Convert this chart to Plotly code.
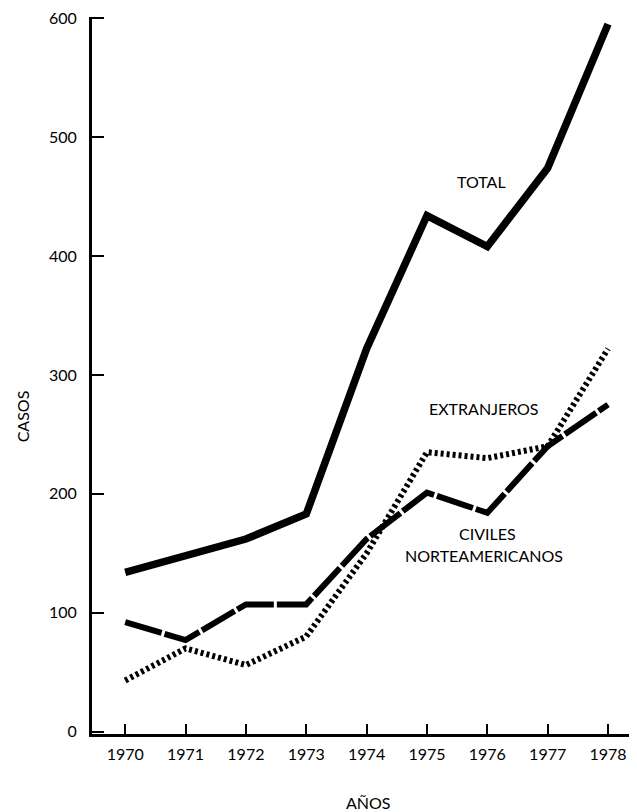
import plotly.graph_objects as go

years = [1970, 1971, 1972, 1973, 1974, 1975, 1976, 1977, 1978]
total = [134, 148, 162, 183, 322, 434, 408, 474, 595]
civiles = [92, 77, 107, 107, 162, 201, 184, 240, 275]
extranjeros = [43, 70, 56, 80, 150, 235, 230, 240, 322]
y_ticks = [0, 100, 200, 300, 400, 500, 600]

FONT = "Lato"

# page has 8px body margin; plot area spans x 92..637, y 14..734 in the screenshot
W, H = 629, 804
L, T = 84, 6
PW, PH = 545, 720

fig = go.Figure()
fig.add_trace(go.Scatter(x=years, y=extranjeros, mode="lines",
                         line=dict(color="black", width=6, dash="3px,3px")))
fig.add_trace(go.Scatter(x=years, y=civiles, mode="lines",
                         line=dict(color="black", width=6, dash="38px,3px")))
fig.add_trace(go.Scatter(x=years, y=total, mode="lines",
                         line=dict(color="black", width=7.5)))

tfont = dict(family=FONT, size=16, color="black")

fig.update_layout(
    width=W, height=H,
    margin=dict(l=L, r=0, t=T, b=H - T - PH, pad=0),
    paper_bgcolor="white", plot_bgcolor="white",
    showlegend=False,
    font=tfont,
    xaxis=dict(range=[1969.45, 1978.48], tickvals=years,
               ticktext=[str(y) for y in years],
               showline=True, linewidth=3, linecolor="black",
               ticks="inside", ticklen=10, tickwidth=2, tickcolor="black",
               showgrid=False, zeroline=False, ticklabelstandoff=4,
               tickfont=tfont),
    yaxis=dict(range=[-2, 601], tickvals=y_ticks,
               showline=True, linewidth=3, linecolor="black",
               ticks="inside", ticklen=12, tickwidth=2, tickcolor="black",
               showgrid=False, zeroline=False, ticklabelstandoff=9,
               ticklabeloverflow="allow", tickfont=tfont),
)

afont = dict(family=FONT, size=16, color="black")
fig.add_annotation(x=1975.9, y=463, xref="x", yref="y", text="TOTAL",
                   showarrow=False, font=afont)
fig.add_annotation(x=1975.95, y=272, xref="x", yref="y", text="EXTRANJEROS",
                   showarrow=False, font=afont)
fig.add_annotation(x=1976.0, y=167, xref="x", yref="y", text="CIVILES",
                   showarrow=False, font=afont)
fig.add_annotation(x=1975.95, y=148, xref="x", yref="y", text="NORTEAMERICANOS",
                   showarrow=False, font=afont)
fig.add_annotation(x=(22 - 92) / PW, y=(734 - 415) / PH, xref="paper", yref="paper",
                   xanchor="center", yanchor="middle",
                   text="CASOS", textangle=-90, showarrow=False, font=afont)
fig.add_annotation(x=(368 - 92) / PW, y=-(803 - 734) / PH, xref="paper", yref="paper",
                   xanchor="center", yanchor="middle",
                   text="AÑOS", showarrow=False, font=afont)

fig.write_html("out.html")
